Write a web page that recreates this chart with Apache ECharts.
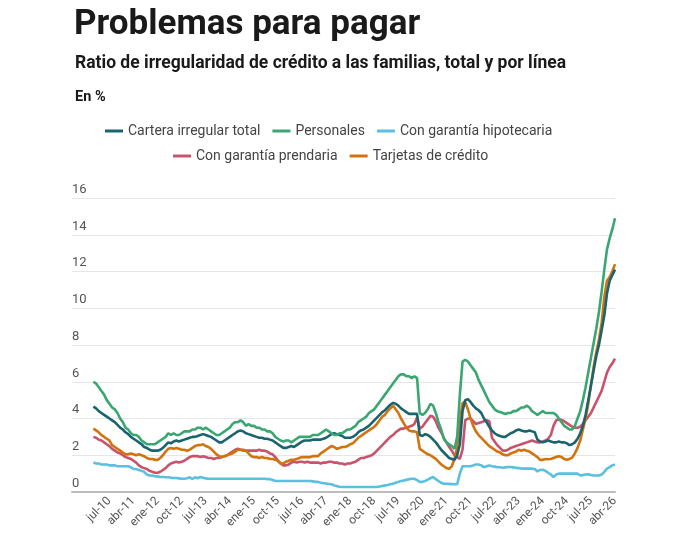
<!DOCTYPE html>
<html>
<head>
<meta charset="utf-8">
<script src="https://cdn.jsdelivr.net/npm/echarts@6/dist/echarts.min.js"></script>
<style>
  html, body { margin: 0; padding: 0; background: #fff; }
  #chart { width: 678px; height: 544px; }
</style>
</head>
<body>
<div id="chart"></div>
<script>
// meses mostrados en el eje
var tickLabels = ['jul-10','abr-11','ene-12','oct-12','jul-13','abr-14','ene-15','oct-15','jul-16','abr-17',
  'ene-18','oct-18','jul-19','abr-20','ene-21','oct-21','jul-22','abr-23','ene-24','oct-24','jul-25','abr-26'];

// serie mensual ene-10 .. abr-26 (en %)
var total = [
  4.65,4.55,4.4,4.3,4.2,4.1,4.0,3.9,3.8,3.65,3.5,3.4,
  3.25,3.15,3.0,2.9,2.8,2.7,2.6,2.45,2.4,2.3,2.25,2.25,
  2.25,2.3,2.4,2.55,2.7,2.65,2.75,2.8,2.75,2.8,2.85,2.9,
  2.95,3.0,3.0,3.05,3.1,3.15,3.1,3.05,3.0,2.9,2.8,2.7,
  2.7,2.8,2.9,3.0,3.1,3.2,3.3,3.35,3.3,3.2,3.15,3.1,
  3.05,3.0,2.95,2.95,2.9,2.9,2.85,2.8,2.7,2.6,2.5,2.4,
  2.4,2.45,2.5,2.45,2.55,2.65,2.75,2.8,2.8,2.8,2.85,2.85,
  2.85,2.85,2.9,2.95,3.05,3.15,3.2,3.15,3.1,3.05,2.95,2.95,
  2.95,3.0,3.1,3.25,3.35,3.4,3.5,3.6,3.75,3.9,4.05,4.2,
  4.35,4.45,4.6,4.75,4.85,4.8,4.7,4.55,4.45,4.35,4.25,4.25,
  4.25,4.25,3.1,3.05,3.15,3.1,3.0,2.85,2.7,2.5,2.3,2.15,
  2.0,1.85,1.8,1.75,2.0,2.6,4.4,5.0,5.05,4.9,4.7,4.55,
  4.45,4.3,4.0,3.8,3.55,3.35,3.2,3.1,3.05,3.0,3.0,3.1,
  3.2,3.25,3.35,3.4,3.35,3.3,3.3,3.35,3.3,3.25,2.85,2.75,
  2.7,2.75,2.8,2.75,2.7,2.7,2.75,2.7,2.7,2.65,2.55,2.6,
  2.7,2.9,3.2,3.6,4.2,5.0,5.8,6.6,7.4,8.0,8.8,9.6,
  10.8,11.5,11.8,12.1
];
var personales = [
  6.0,5.9,5.7,5.5,5.3,5.0,4.8,4.6,4.5,4.3,4.0,3.8,
  3.5,3.4,3.2,3.1,3.1,3.0,2.8,2.7,2.6,2.6,2.6,2.6,
  2.7,2.8,2.9,3.0,3.2,3.1,3.2,3.1,3.1,3.2,3.3,3.3,
  3.3,3.4,3.4,3.5,3.5,3.4,3.5,3.4,3.3,3.2,3.1,3.1,
  3.2,3.3,3.4,3.5,3.7,3.8,3.8,3.9,3.8,3.6,3.7,3.6,
  3.6,3.5,3.5,3.4,3.4,3.3,3.3,3.2,3.0,2.9,2.8,2.75,
  2.8,2.8,2.7,2.8,2.9,3.0,3.0,3.0,3.0,3.0,3.1,3.1,
  3.1,3.2,3.3,3.4,3.3,3.2,3.1,3.1,3.2,3.2,3.3,3.4,
  3.4,3.5,3.6,3.8,3.9,4.0,4.1,4.3,4.4,4.5,4.7,4.9,
  5.1,5.3,5.5,5.7,5.9,6.1,6.3,6.4,6.4,6.3,6.3,6.2,
  6.3,6.2,4.3,4.2,4.3,4.5,4.8,4.7,4.3,3.8,3.4,2.9,
  2.7,2.6,2.5,2.35,3.0,5.3,7.1,7.2,7.1,6.9,6.7,6.5,
  6.1,5.8,5.5,5.2,4.9,4.7,4.5,4.4,4.35,4.3,4.25,4.3,
  4.3,4.4,4.4,4.5,4.6,4.6,4.7,4.6,4.4,4.3,4.2,4.3,
  4.4,4.3,4.3,4.3,4.3,4.2,4.0,3.8,3.6,3.5,3.4,3.4,
  3.6,4.0,4.4,5.0,5.7,6.5,7.3,8.1,8.9,9.8,10.9,12.1,
  13.2,13.8,14.3,14.9
];
var hipotecaria = [
  1.6,1.55,1.55,1.5,1.5,1.5,1.45,1.45,1.45,1.4,1.4,1.4,
  1.4,1.4,1.35,1.25,1.25,1.2,1.15,1.1,0.95,0.9,0.9,0.85,
  0.85,0.82,0.82,0.8,0.8,0.78,0.76,0.76,0.74,0.72,0.72,0.75,
  0.8,0.72,0.8,0.75,0.82,0.78,0.74,0.72,0.72,0.72,0.72,0.72,
  0.72,0.72,0.72,0.72,0.72,0.72,0.72,0.72,0.72,0.72,0.72,0.72,
  0.72,0.72,0.72,0.72,0.72,0.7,0.7,0.65,0.6,0.6,0.6,0.6,
  0.6,0.6,0.6,0.6,0.6,0.6,0.6,0.6,0.6,0.6,0.58,0.55,
  0.55,0.5,0.48,0.46,0.44,0.42,0.36,0.32,0.29,0.27,0.27,0.27,
  0.27,0.27,0.27,0.27,0.27,0.27,0.27,0.27,0.27,0.27,0.28,0.3,
  0.33,0.36,0.38,0.42,0.45,0.5,0.55,0.6,0.62,0.66,0.7,0.72,
  0.72,0.65,0.54,0.55,0.6,0.67,0.75,0.82,0.7,0.6,0.5,0.45,
  0.45,0.44,0.43,0.42,0.42,1.0,1.4,1.4,1.4,1.4,1.45,1.5,
  1.5,1.45,1.35,1.4,1.45,1.4,1.38,1.35,1.35,1.32,1.34,1.36,
  1.36,1.34,1.32,1.3,1.28,1.27,1.27,1.28,1.27,1.25,1.12,1.2,
  1.21,1.15,1.05,0.95,0.82,0.95,1.0,1.0,1.0,1.0,1.0,1.0,
  1.0,1.0,0.9,0.92,0.95,0.96,0.93,0.9,0.9,0.9,0.95,1.1,
  1.27,1.35,1.45,1.5
];
var prendaria = [
  3.0,2.95,2.85,2.8,2.7,2.6,2.5,2.35,2.25,2.15,2.1,2.0,
  1.9,1.85,1.8,1.7,1.6,1.45,1.35,1.3,1.25,1.15,1.1,1.05,
  1.05,1.1,1.2,1.3,1.45,1.55,1.6,1.65,1.6,1.65,1.7,1.8,
  1.9,1.95,1.95,1.95,1.9,1.95,1.9,1.85,1.85,1.8,1.85,1.85,
  1.9,1.95,2.0,2.1,2.2,2.3,2.35,2.3,2.3,2.25,2.25,2.25,
  2.25,2.25,2.3,2.25,2.25,2.2,2.1,2.05,1.9,1.7,1.55,1.45,
  1.45,1.5,1.6,1.65,1.6,1.65,1.65,1.6,1.65,1.6,1.6,1.6,
  1.6,1.55,1.6,1.6,1.65,1.65,1.6,1.6,1.55,1.55,1.5,1.55,
  1.55,1.6,1.65,1.75,1.85,1.85,1.9,1.95,2.0,2.1,2.25,2.4,
  2.55,2.7,2.85,3.0,3.1,3.25,3.35,3.45,3.45,3.5,3.55,3.6,
  3.7,4.05,3.45,3.55,3.75,3.95,4.15,4.1,3.85,3.5,3.25,2.95,
  2.7,2.45,2.25,2.0,1.9,1.8,2.3,3.9,4.0,4.0,3.85,3.7,
  3.75,3.8,3.85,3.9,3.85,2.95,2.75,2.55,2.4,2.25,2.25,2.3,
  2.4,2.45,2.5,2.55,2.6,2.65,2.7,2.75,2.8,2.75,2.7,2.7,
  2.75,2.8,2.9,3.1,3.6,3.9,3.95,3.93,3.85,3.75,3.65,3.55,
  3.5,3.5,3.55,3.7,3.9,4.1,4.3,4.6,4.9,5.2,5.5,6.0,
  6.5,6.8,7.0,7.26
];
var tarjetas = [
  3.45,3.35,3.25,3.1,3.0,2.9,2.8,2.55,2.45,2.35,2.25,2.15,
  2.05,2.05,2.1,2.05,2.0,2.05,2.0,1.95,1.85,1.8,1.8,1.75,
  1.75,1.85,2.0,2.2,2.35,2.4,2.35,2.4,2.35,2.3,2.3,2.25,
  2.3,2.4,2.5,2.55,2.55,2.6,2.5,2.45,2.35,2.2,2.05,1.95,
  1.9,1.95,2.0,2.05,2.1,2.2,2.3,2.3,2.25,2.25,2.1,1.95,
  1.9,1.9,1.85,1.9,1.85,1.85,1.8,1.8,1.75,1.7,1.55,1.55,
  1.65,1.7,1.75,1.75,1.8,1.85,1.9,1.9,1.9,1.9,1.95,1.95,
  1.95,2.1,2.2,2.3,2.4,2.5,2.45,2.35,2.4,2.45,2.45,2.5,
  2.6,2.65,2.8,2.95,3.05,3.15,3.25,3.35,3.45,3.55,3.7,3.9,
  4.1,4.2,4.4,4.55,4.7,4.5,4.3,4.0,3.75,3.5,3.35,3.3,
  3.3,3.25,2.35,2.25,2.15,2.05,2.0,1.9,1.8,1.65,1.5,1.4,
  1.3,1.27,1.4,1.8,2.45,3.8,4.85,4.9,4.5,4.0,3.6,3.3,
  3.1,2.95,2.8,2.65,2.5,2.4,2.3,2.2,2.15,2.05,2.0,2.0,
  2.1,2.15,2.2,2.3,2.25,2.3,2.25,2.2,2.1,2.0,1.9,1.75,
  1.75,1.8,1.78,1.8,1.85,1.9,1.95,1.9,1.8,1.76,1.8,1.87,
  2.1,2.4,2.8,3.4,4.0,4.8,5.8,6.8,7.6,8.3,9.2,10.6,
  11.5,11.7,12.0,12.4
];

var seriesNames = ['Cartera irregular total', 'Personales', 'Con garantía hipotecaria', 'Con garantía prendaria', 'Tarjetas de crédito'];
var seriesColors = ['#19646f', '#3aa672', '#5bbfe0', '#c8536a', '#d2730f'];

(function(){
    var meses = ['ene','feb','mar','abr','may','jun','jul','ago','sep','oct','nov','dic'];
    var padMonths = 8; // hueco a la izquierda del eje, antes de ene-10
    var categories = [];
    for (var k = -padMonths; k < total.length; k++) {
        var m = ((k % 12) + 12) % 12,
            y = 10 + Math.floor(k / 12);
        categories.push(meses[m] + '-' + (y < 10 ? '0' + y : y));
    }
    function pad(arr){
        var out = [];
        for (var i = 0; i < padMonths; i++) out.push(null);
        return out.concat(arr);
    }
    var values = [total, personales, hipotecaria, prendaria, tarjetas];
    // orden de dibujo: las líneas de arriba quedan encima
    var drawOrder = [2, 3, 4, 0, 1];
    var series = drawOrder.map(function(idx){
        return {
            name: seriesNames[idx],
            type: 'line',
            data: pad(values[idx]),
            showSymbol: false,
            lineStyle: { width: 2.6, color: seriesColors[idx] },
            itemStyle: { color: seriesColors[idx] },
            z: 2 + drawOrder.indexOf(idx)
        };
    });
    var legendBase = {
        icon: 'rect',
        itemWidth: 18,
        itemHeight: 3,
        itemGap: 12,
        textStyle: { fontFamily: 'Roboto', fontSize: 14, color: '#444' }
    };
    var legend1 = Object.assign({}, legendBase, { left: 100, top: 119, data: seriesNames.slice(0, 3) });
    var legend2 = Object.assign({}, legendBase, { left: 168, top: 144, data: seriesNames.slice(3) });

    var myChart = echarts.init(document.getElementById('chart'), null, { renderer: 'canvas' });
    myChart.setOption({
        backgroundColor: '#fff',
        animation: false,
        title: [
            { text: 'Problemas para pagar', left: 69, top: 3,
              textStyle: { fontFamily: 'Roboto', fontWeight: 'bold', fontSize: 35, color: '#1a1a1a' } },
            { text: 'Ratio de irregularidad de crédito a las familias, total y por línea', left: 70, top: 50,
              textStyle: { fontFamily: 'Roboto', fontWeight: 'bold', fontSize: 17.5, color: '#1a1a1a' } },
            { text: 'En %', left: 70, top: 85,
              textStyle: { fontFamily: 'Roboto', fontWeight: 'bold', fontSize: 14.5, color: '#1a1a1a' } }
        ],
        legend: [legend1, legend2],
        grid: { left: 72, right: 63, top: 198, bottom: 52, containLabel: false },
        xAxis: {
            type: 'category',
            data: categories,
            boundaryGap: false,
            axisLine: { lineStyle: { color: '#bdbdbd', width: 2 } },
            axisTick: { show: false },
            axisLabel: {
                rotate: 45,
                margin: 7,
                fontFamily: 'Roboto',
                fontSize: 12,
                color: '#555',
                interval: function(i, v){ return tickLabels.indexOf(v) >= 0; }
            },
            splitLine: { show: false }
        },
        yAxis: {
            type: 'value',
            min: 0,
            max: 16,
            interval: 2,
            axisLine: { show: false },
            axisTick: { show: false },
            axisLabel: {
                inside: true,
                margin: 0,
                verticalAlign: 'bottom',
                padding: [0, 0, 2, 0],
                fontFamily: 'Roboto',
                fontSize: 13,
                color: '#555'
            },
            splitLine: { lineStyle: { color: '#e6e6e6', width: 1 } }
        },
        series: series
    });
})();
</script>
</body>
</html>
